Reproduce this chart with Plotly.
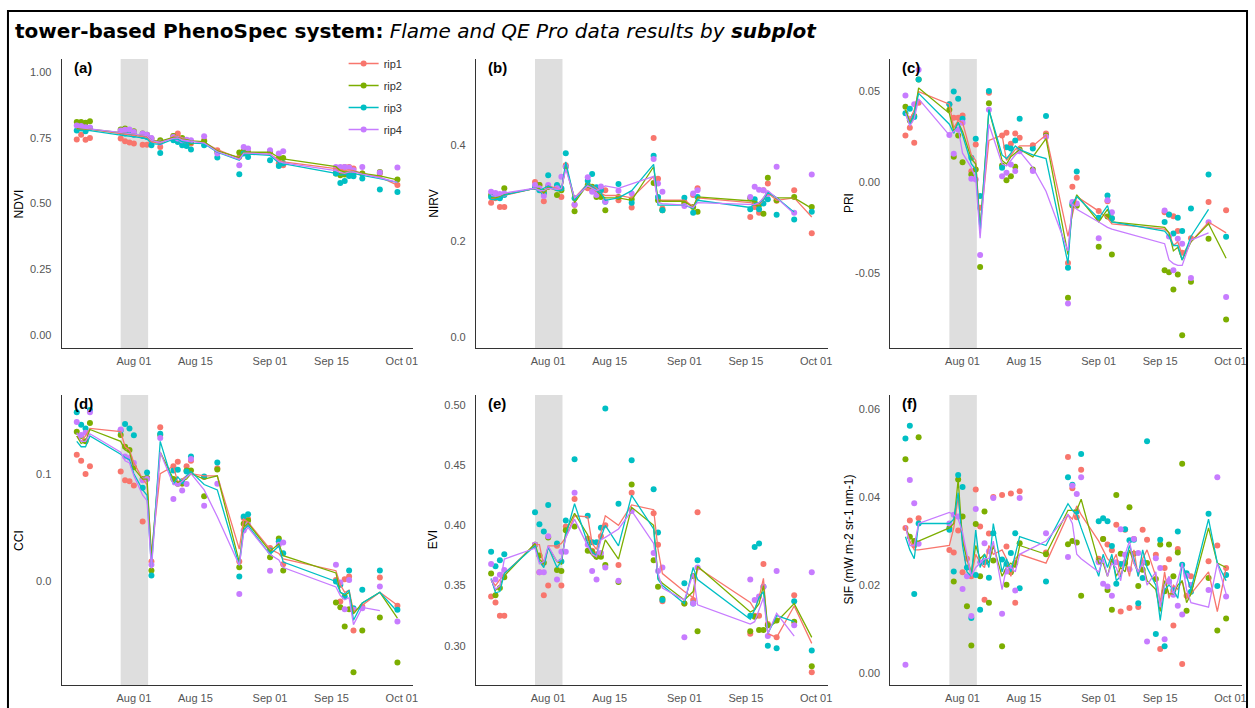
import plotly.graph_objects as go

W, H = 1255, 708
COLORS = ["#F8766D", "#7CAE00", "#00BFC4", "#C77CFF"]
RIPS = ["rip1", "rip2", "rip3", "rip4"]

DATES = ["2022-07-19","2022-07-20","2022-07-21","2022-07-22","2022-07-29","2022-07-30","2022-07-31",
         "2022-08-01","2022-08-03","2022-08-04","2022-08-05","2022-08-07","2022-08-10","2022-08-11",
         "2022-08-12","2022-08-13","2022-08-14","2022-08-17","2022-08-20","2022-08-25","2022-08-26",
         "2022-08-27","2022-09-01","2022-09-03","2022-09-04","2022-09-16","2022-09-17","2022-09-18",
         "2022-09-19","2022-09-20","2022-09-22","2022-09-26","2022-09-30"]

# ---------------- NDVI ----------------
ndvi_pts_rip1 = [0.744,0.762,0.743,0.749,0.747,0.737,0.732,0.728,0.724,0.724,0.741,0.715,0.757,0.766,0.741,0.734,0.728,0.741,0.703,0.677,0.696,0.694,0.696,0.652,0.646,0.627,0.633,0.639,0.639,0.633,0.614,0.614,0.570]
ndvi_pts_rip2 = [0.810,0.810,0.807,0.813,0.782,0.785,0.778,0.775,0.766,0.762,0.747,0.741,0.757,0.749,0.749,0.741,0.734,0.737,0.696,0.694,0.699,0.694,0.699,0.671,0.673,0.614,0.608,0.610,0.608,0.614,0.614,0.620,0.591]
ndvi_pts_rip3 = [0.778,0.785,0.775,0.787,0.772,0.766,0.770,0.762,0.757,0.753,0.722,0.692,0.741,0.734,0.722,0.719,0.706,0.722,0.675,0.611,0.690,0.677,0.665,0.643,0.652,0.614,0.578,0.586,0.605,0.604,0.595,0.553,0.544]
ndvi_pts_rip4 = [0.797,0.795,0.790,0.789,0.778,0.781,0.782,0.772,0.766,0.762,0.749,0.732,0.753,0.747,0.741,0.743,0.741,0.756,0.690,0.646,0.715,0.709,0.703,0.690,0.699,0.639,0.639,0.639,0.637,0.627,0.639,0.618,0.637]
ndvi_line_rip1 = [0.785,0.783,0.782,0.782,0.765,0.763,0.760,0.758,0.755,0.752,0.735,0.728,0.755,0.762,0.748,0.742,0.737,0.732,0.705,0.672,0.690,0.690,0.688,0.665,0.658,0.633,0.628,0.625,0.628,0.625,0.615,0.600,0.570]
ndvi_line_rip2 = [0.785,0.784,0.783,0.783,0.770,0.768,0.765,0.762,0.760,0.757,0.740,0.737,0.752,0.752,0.745,0.743,0.738,0.735,0.700,0.675,0.695,0.695,0.695,0.675,0.670,0.640,0.625,0.620,0.620,0.622,0.615,0.605,0.590]
ndvi_line_rip3 = [0.778,0.778,0.777,0.777,0.760,0.758,0.755,0.752,0.750,0.745,0.728,0.725,0.745,0.745,0.735,0.733,0.730,0.728,0.695,0.665,0.690,0.688,0.683,0.655,0.652,0.615,0.608,0.610,0.615,0.615,0.607,0.595,0.580]
ndvi_line_rip4 = [0.790,0.788,0.787,0.786,0.770,0.768,0.766,0.764,0.762,0.758,0.740,0.733,0.748,0.750,0.742,0.740,0.738,0.730,0.697,0.668,0.692,0.692,0.688,0.660,0.655,0.625,0.618,0.615,0.620,0.620,0.612,0.598,0.580]

# ---------------- NIRV ----------------
nirv_pts_rip1 = [0.280,0.289,0.271,0.271,0.323,0.317,0.283,0.313,0.313,0.292,0.358,0.275,0.310,0.306,0.303,0.308,0.306,0.285,0.270,0.415,0.330,0.268,0.282,0.296,0.310,0.250,0.271,0.259,0.306,0.320,0.284,0.306,0.216]
nirv_pts_rip2 = [0.296,0.294,0.292,0.310,0.313,0.317,0.303,0.313,0.296,0.306,0.355,0.262,0.317,0.313,0.292,0.292,0.264,0.292,0.287,0.321,0.285,0.264,0.278,0.271,0.261,0.289,0.280,0.275,0.257,0.332,0.285,0.292,0.271]
nirv_pts_rip3 = [0.292,0.292,0.289,0.296,0.313,0.306,0.299,0.337,0.317,0.310,0.383,0.289,0.326,0.340,0.312,0.306,0.282,0.319,0.280,0.378,0.292,0.264,0.290,0.259,0.292,0.266,0.287,0.266,0.278,0.287,0.255,0.245,0.261]
nirv_pts_rip4 = [0.303,0.300,0.298,0.299,0.317,0.310,0.294,0.317,0.310,0.334,0.355,0.276,0.333,0.303,0.296,0.314,0.282,0.305,0.299,0.371,0.320,0.303,0.273,0.299,0.306,0.292,0.313,0.307,0.306,0.298,0.355,0.259,0.339]
nirv_line_rip1 = [0.288,0.290,0.292,0.295,0.310,0.305,0.300,0.315,0.310,0.305,0.355,0.290,0.320,0.315,0.310,0.300,0.295,0.295,0.290,0.335,0.285,0.285,0.285,0.272,0.290,0.280,0.278,0.276,0.285,0.300,0.285,0.290,0.250]
nirv_line_rip2 = [0.290,0.290,0.293,0.297,0.310,0.310,0.300,0.312,0.305,0.305,0.360,0.280,0.318,0.310,0.305,0.295,0.290,0.290,0.285,0.355,0.285,0.283,0.283,0.270,0.292,0.285,0.283,0.278,0.290,0.302,0.290,0.290,0.268]
nirv_line_rip3 = [0.287,0.286,0.290,0.296,0.310,0.305,0.310,0.315,0.305,0.305,0.365,0.285,0.320,0.315,0.305,0.300,0.285,0.290,0.305,0.360,0.275,0.275,0.275,0.268,0.285,0.270,0.278,0.280,0.285,0.302,0.290,0.260,None]
nirv_line_rip4 = [0.295,0.293,0.295,0.300,0.310,0.305,0.305,0.310,0.308,0.310,0.350,0.290,0.315,0.310,0.305,0.310,0.315,0.310,0.320,0.335,0.280,0.278,0.275,0.270,0.280,0.275,0.276,0.280,0.290,0.305,0.290,0.257,None]

# ---------------- PRI ----------------
pri_pts_rip1 = [0.0258,0.0300,0.0217,0.0438,0.0430,0.0355,0.0355,0.0368,0.0060,0.0208,-0.0142,0.0494,0.0258,0.0273,0.0212,0.0269,0.0245,0.0203,0.0269,-0.0446,-0.0026,0.0024,-0.0160,-0.0105,-0.0200,-0.0166,-0.0180,-0.0188,-0.0270,-0.0390,-0.0310,-0.0110,-0.0155]
pri_pts_rip2 = [0.0416,0.0340,0.0365,0.0567,0.0400,0.0140,0.0258,0.0110,0.0042,0.0070,-0.0468,0.0435,0.0092,0.0011,0.0033,0.0085,0.0180,0.0070,0.0258,-0.0639,-0.0129,-0.0130,-0.0357,-0.0190,-0.0400,-0.0486,-0.0497,-0.0593,-0.0510,-0.0845,-0.0550,-0.0313,-0.0759]
pri_pts_rip3 = [0.0380,0.0405,0.0360,0.0567,0.0430,0.0500,0.0460,0.0350,0.0134,0.0240,-0.0077,0.0503,0.0079,0.0193,0.0186,0.0230,0.0350,0.0186,0.0365,-0.0473,-0.0120,0.0059,-0.0197,-0.0074,-0.0200,-0.0220,-0.0179,-0.0284,-0.0197,-0.0270,-0.0145,0.0042,-0.0302]
pri_pts_rip4 = [0.0479,0.0350,0.0430,0.0620,0.0260,0.0157,0.0290,0.0328,0.0018,0.0015,-0.0403,0.0400,0.0033,0.0052,0.0098,0.0061,0.0171,0.0061,0.0250,-0.0670,-0.0110,-0.0118,-0.0310,-0.0100,-0.0166,-0.0157,-0.0300,-0.0486,-0.0313,-0.0340,-0.0529,-0.0221,-0.0634]
pri_line_rip1 = [0.040,0.034,0.040,0.050,0.043,0.030,0.034,0.033,0.015,0.012,-0.025,0.023,0.026,0.012,0.015,0.018,0.020,0.020,0.026,-0.030,-0.018,-0.008,-0.016,-0.020,-0.023,-0.026,-0.028,-0.035,-0.033,-0.040,-0.033,-0.022,-0.028]
pri_line_rip2 = [0.040,0.033,0.037,0.052,0.038,0.028,0.033,0.028,0.013,0.010,-0.026,0.040,0.012,0.010,0.014,0.016,0.018,0.014,0.024,-0.040,-0.015,-0.007,-0.022,-0.015,-0.022,-0.025,-0.028,-0.038,-0.036,-0.043,-0.033,-0.023,-0.042]
pri_line_rip3 = [0.038,0.032,0.038,0.049,0.032,0.027,0.033,0.026,0.010,0.007,-0.028,0.040,0.015,0.013,0.016,0.020,0.018,0.015,0.013,-0.045,-0.012,-0.008,-0.020,-0.013,-0.022,-0.027,-0.030,-0.035,-0.035,-0.043,-0.030,-0.015,None]
pri_line_rip4 = [0.038,0.031,0.035,0.046,0.026,0.028,0.030,0.016,0.008,0.002,-0.031,0.032,0.010,0.009,0.012,0.015,0.017,0.008,-0.005,-0.038,-0.012,-0.015,-0.022,-0.025,-0.026,-0.034,-0.043,-0.045,-0.046,-0.046,-0.032,-0.028,None]

# ---------------- CCI ----------------
cci_pts_rip1 = [0.1176,0.1120,0.0997,0.1070,0.1020,0.0940,0.0930,0.0890,0.0557,0.0960,0.0186,0.1430,0.1070,0.1110,0.0910,0.1070,0.1120,0.0970,0.1050,0.0186,0.0588,0.0580,0.0310,0.0370,0.0160,0.0015,-0.0186,0.0022,0.0046,-0.0455,-0.0232,0.0037,-0.0226]
cci_pts_rip2 = [0.1390,0.1350,0.1300,0.1470,0.1360,0.1250,0.1220,0.1060,0.0950,0.0960,0.0102,0.1360,0.0950,0.0907,0.0910,0.1030,0.1030,0.0790,0.1040,0.0133,0.0536,0.0567,0.0226,0.0400,0.0102,-0.0195,-0.0238,-0.0418,-0.0257,-0.0842,-0.0455,-0.0334,-0.0752]
cci_pts_rip3 = [0.1570,0.1455,0.1420,0.1590,0.1400,0.1460,0.1420,0.1356,0.0870,0.1010,0.0056,0.1370,0.1030,0.1037,0.0930,0.1020,0.1160,0.0975,0.1105,0.0046,0.0604,0.0625,0.0288,0.0370,0.0263,0.0000,-0.0030,-0.0140,0.0102,-0.0248,-0.0077,0.0102,-0.0263]
cci_pts_rip4 = [0.1480,0.1360,0.1380,0.1570,0.1410,0.1160,0.1146,0.1100,0.0940,0.0950,0.0155,0.1330,0.0765,0.0907,0.0845,0.0904,0.1136,0.0703,0.0907,-0.0115,0.0474,0.0526,0.0099,0.0340,0.0362,0.0155,-0.0010,-0.0257,0.0015,-0.0263,-0.0248,-0.0046,-0.0372]
cci_line_rip1 = [0.135,0.130,0.135,0.142,0.139,0.125,0.122,0.110,0.095,0.090,0.025,0.100,0.107,0.092,0.095,0.098,0.100,0.098,0.098,0.030,0.058,0.055,0.030,0.026,0.021,0.010,-0.003,-0.010,-0.008,-0.028,-0.022,-0.010,-0.022]
cci_line_rip2 = [0.135,0.128,0.130,0.141,0.130,0.122,0.120,0.105,0.095,0.095,0.022,0.120,0.095,0.092,0.093,0.095,0.100,0.095,0.098,0.018,0.050,0.054,0.028,0.035,0.024,0.008,-0.010,-0.013,-0.010,-0.030,-0.020,-0.010,-0.034]
cci_line_rip3 = [0.130,0.125,0.125,0.135,0.118,0.115,0.113,0.100,0.085,0.080,0.013,0.130,0.090,0.097,0.092,0.098,0.102,0.090,0.085,0.015,0.048,0.052,0.025,0.033,0.018,0.000,-0.010,-0.012,-0.008,-0.036,-0.020,-0.010,-0.028]
cci_line_rip4 = [0.138,0.130,0.130,0.137,0.120,0.112,0.110,0.098,0.080,0.075,0.012,0.120,0.090,0.090,0.093,0.097,0.100,0.085,0.060,0.015,0.045,0.050,0.025,0.020,0.013,-0.005,-0.013,-0.017,-0.015,-0.040,-0.024,-0.027,None]

# ---------------- EVI ----------------
evi_pts_rip1 = [0.341,0.336,0.325,0.325,0.384,0.361,0.342,0.350,0.383,0.350,0.399,0.422,0.389,0.379,0.376,0.391,0.400,0.367,0.427,0.410,0.384,0.337,0.335,0.338,0.411,0.310,0.325,0.325,0.368,0.318,0.307,0.342,0.278]
evi_pts_rip2 = [0.360,0.342,0.348,0.357,0.384,0.375,0.369,0.390,0.363,0.362,0.396,0.399,0.379,0.378,0.374,0.374,0.367,0.353,0.434,0.371,0.349,0.339,0.335,0.358,0.312,0.312,0.324,0.313,0.313,0.317,0.321,0.320,0.283]
evi_pts_rip3 = [0.378,0.366,0.371,0.376,0.411,0.401,0.395,0.417,0.385,0.370,0.404,0.455,0.408,0.386,0.386,0.398,0.497,0.418,0.454,0.430,0.394,0.338,0.352,0.335,0.371,0.325,0.382,0.385,0.349,0.300,0.298,0.337,0.296]
evi_pts_rip4 = [0.368,0.355,0.359,0.363,0.384,0.361,0.361,0.391,0.355,0.378,0.378,0.427,0.384,0.362,0.355,0.377,0.365,0.354,0.412,0.377,0.362,0.365,0.307,0.335,0.365,0.355,0.338,0.341,0.349,0.308,0.362,0.317,0.361]
evi_line_rip1 = [0.355,0.350,0.355,0.360,0.384,0.384,0.366,0.383,0.383,0.385,0.390,0.408,0.407,0.385,0.380,0.393,0.408,0.400,0.417,0.413,0.380,0.360,0.345,0.340,0.365,0.336,0.330,0.340,0.356,0.310,0.307,0.333,0.302]
evi_line_rip2 = [0.355,0.346,0.350,0.358,0.385,0.372,0.368,0.382,0.370,0.368,0.395,0.410,0.392,0.375,0.372,0.375,0.388,0.372,0.415,0.400,0.356,0.352,0.338,0.345,0.366,0.328,0.330,0.335,0.350,0.315,0.320,0.335,0.307]
evi_line_rip3 = [0.356,0.344,0.345,0.360,0.383,0.370,0.365,0.382,0.365,0.370,0.392,0.418,0.385,0.378,0.375,0.390,0.400,0.383,0.425,0.397,0.355,0.350,0.335,0.365,0.355,0.322,0.330,0.340,0.345,0.310,0.325,0.320,None]
evi_line_rip4 = [0.355,0.347,0.350,0.372,0.381,0.368,0.370,0.383,0.370,0.372,0.390,0.405,0.383,0.376,0.374,0.388,0.390,0.397,0.412,0.385,0.360,0.348,0.338,0.360,0.334,0.318,0.320,0.330,0.340,0.310,0.327,0.308,None]

# ---------------- SIF (denser sampling) ----------------
SIF_DATES = ["2022-07-19","2022-07-20","2022-07-21","2022-07-22","2022-07-29","2022-07-30","2022-07-31",
             "2022-08-01","2022-08-02","2022-08-03","2022-08-04","2022-08-05","2022-08-06","2022-08-07",
             "2022-08-08","2022-08-10","2022-08-11","2022-08-12","2022-08-13","2022-08-14","2022-08-20",
             "2022-08-25","2022-08-26","2022-08-27","2022-08-28","2022-09-01","2022-09-02","2022-09-03",
             "2022-09-04","2022-09-05","2022-09-06","2022-09-07","2022-09-08","2022-09-09","2022-09-10",
             "2022-09-11","2022-09-12","2022-09-14","2022-09-15","2022-09-16","2022-09-17","2022-09-18",
             "2022-09-19","2022-09-20","2022-09-21","2022-09-22","2022-09-26","2022-09-28","2022-09-30"]
sif_pts_rip1 = [0.0330,0.0347,0.0290,0.0352,0.0280,0.0274,0.0324,0.0229,0.0260,0.0220,0.0417,0.0333,0.0167,0.0317,0.0400,0.0405,0.0288,0.0408,0.0160,0.0413,0.0274,0.0491,0.0420,0.0354,0.0462,0.0260,0.0305,0.0292,0.0279,0.0337,0.0140,0.0326,0.0148,0.0305,0.0150,0.0326,0.0303,0.0269,0.0055,0.0239,0.0259,0.0108,0.0282,0.0021,0.0176,0.0220,0.0254,0.0290,0.0239]
sif_pts_rip2 = [0.0486,0.0310,0.0300,0.0536,0.0330,0.0208,0.0440,0.0356,0.0152,0.0063,0.0339,0.0220,0.0367,0.0160,0.0256,0.0061,0.0201,0.0229,0.0250,0.0295,0.0270,0.0293,0.0300,0.0297,0.0176,0.0254,0.0305,0.0189,0.0144,0.0405,0.0271,0.0250,0.0377,0.0271,0.0198,0.0235,0.0250,0.0214,0.0292,0.0186,0.0292,0.0220,0.0274,0.0476,0.0142,0.0200,0.0216,0.0097,0.0124]
sif_pts_rip3 = [0.0533,0.0562,0.0180,0.0340,0.0326,0.0231,0.0450,0.0423,0.0240,0.0125,0.0223,0.0144,0.0252,0.0217,0.0318,0.0258,0.0248,0.0273,0.0318,0.0193,0.0208,0.0445,0.0428,0.0367,0.0498,0.0345,0.0352,0.0345,0.0289,0.0203,0.0248,0.0327,0.0302,0.0303,0.0159,0.0216,0.0527,0.0089,0.0303,0.0061,0.0208,0.0189,0.0322,0.0246,0.0227,0.0185,0.0362,0.0198,0.0223]
sif_pts_rip4 = [0.0019,0.0439,0.0386,0.0294,0.0340,0.0360,0.0356,0.0191,0.0220,0.0130,0.0373,0.0252,0.0295,0.0277,0.0398,0.0135,0.0231,0.0239,0.0188,0.0398,0.0318,0.0264,0.0426,0.0407,0.0445,0.0252,0.0203,0.0197,0.0176,0.0252,0.0327,0.0269,0.0236,0.0305,0.0273,0.0252,0.0072,0.0261,0.0239,0.0077,0.0208,0.0178,0.0153,0.0133,0.0221,0.0200,0.0189,0.0445,0.0174]
sif_line_rip1 = [0.033,0.030,0.028,0.028,0.029,0.033,0.040,0.031,0.026,0.022,0.027,0.025,0.024,0.029,0.027,0.028,0.026,0.022,0.026,0.027,0.025,0.036,0.035,0.038,0.036,0.030,0.028,0.026,0.025,0.027,0.022,0.026,0.022,0.028,0.022,0.026,0.028,0.022,0.016,0.023,0.017,0.020,0.019,0.021,0.017,0.018,0.023,0.014,0.024]
sif_line_rip2 = [0.033,0.031,0.030,0.030,0.033,0.034,0.044,0.030,0.026,0.023,0.029,0.026,0.027,0.025,0.029,0.022,0.024,0.025,0.024,0.029,0.027,0.037,0.037,0.037,0.0395,0.025,0.025,0.022,0.026,0.022,0.024,0.023,0.028,0.025,0.023,0.025,0.021,0.019,0.014,0.021,0.018,0.018,0.020,0.021,0.016,0.018,0.033,0.025,0.024]
sif_line_rip3 = [0.031,0.028,0.026,0.034,0.034,0.035,0.041,0.029,0.023,0.022,0.0325,0.024,0.027,0.024,0.034,0.023,0.026,0.023,0.027,0.031,0.029,0.0385,0.037,0.036,0.033,0.022,0.027,0.024,0.027,0.021,0.022,0.025,0.029,0.026,0.022,0.028,0.024,0.020,0.012,0.019,0.020,0.019,0.017,0.025,0.022,0.019,0.035,0.025,0.021]
sif_line_rip4 = [0.0335,0.029,0.029,0.034,0.0365,0.036,0.035,0.032,0.027,0.022,0.024,0.025,0.026,0.026,0.030,0.019,0.024,0.024,0.023,0.027,0.030,0.036,0.034,0.027,0.026,0.023,0.026,0.022,0.025,0.024,0.021,0.027,0.030,0.025,0.023,0.025,0.020,0.023,0.015,0.020,0.022,0.018,0.021,0.025,0.019,0.016,0.015,0.025,0.018]

PANELS = [
    dict(lab="(a)", ytitle="NDVI", dates=DATES,
         pts=[ndvi_pts_rip1, ndvi_pts_rip2, ndvi_pts_rip3, ndvi_pts_rip4],
         lines=[ndvi_line_rip1, ndvi_line_rip2, ndvi_line_rip3, ndvi_line_rip4],
         rng=[-0.05, 1.05], tv=[0, 0.25, 0.5, 0.75, 1.0], tt=["0.00", "0.25", "0.50", "0.75", "1.00"]),
    dict(lab="(b)", ytitle="NIRV", dates=DATES,
         pts=[nirv_pts_rip1, nirv_pts_rip2, nirv_pts_rip3, nirv_pts_rip4],
         lines=[nirv_line_rip1, nirv_line_rip2, nirv_line_rip3, nirv_line_rip4],
         rng=[-0.0235, 0.58], tv=[0, 0.2, 0.4], tt=["0.0", "0.2", "0.4"]),
    dict(lab="(c)", ytitle="PRI", dates=DATES,
         pts=[pri_pts_rip1, pri_pts_rip2, pri_pts_rip3, pri_pts_rip4],
         lines=[pri_line_rip1, pri_line_rip2, pri_line_rip3, pri_line_rip4],
         rng=[-0.0916, 0.068], tv=[-0.05, 0, 0.05], tt=["-0.05", "0.00", "0.05"]),
    dict(lab="(d)", ytitle="CCI", dates=DATES,
         pts=[cci_pts_rip1, cci_pts_rip2, cci_pts_rip3, cci_pts_rip4],
         lines=[cci_line_rip1, cci_line_rip2, cci_line_rip3, cci_line_rip4],
         rng=[-0.096, 0.173], tv=[0, 0.1], tt=["0.0", "0.1"]),
    dict(lab="(e)", ytitle="EVI", dates=DATES,
         pts=[evi_pts_rip1, evi_pts_rip2, evi_pts_rip3, evi_pts_rip4],
         lines=[evi_line_rip1, evi_line_rip2, evi_line_rip3, evi_line_rip4],
         rng=[0.2674, 0.5083], tv=[0.30, 0.35, 0.40, 0.45, 0.50], tt=["0.30", "0.35", "0.40", "0.45", "0.50"]),
    dict(lab="(f)", ytitle="SIF (mW m-2 sr-1 nm-1)", dates=SIF_DATES,
         pts=[sif_pts_rip1, sif_pts_rip2, sif_pts_rip3, sif_pts_rip4],
         lines=[sif_line_rip1, sif_line_rip2, sif_line_rip3, sif_line_rip4],
         rng=[-0.0027, 0.0632], tv=[0, 0.02, 0.04, 0.06], tt=["0.00", "0.02", "0.04", "0.06"]),
]

XTICKS = ["2022-08-01", "2022-08-15", "2022-09-01", "2022-09-15", "2022-10-01"]
XTICKTEXT = ["Aug 01", "Aug 15", "Sep 01", "Sep 15", "Oct 01"]
XRANGE = ["2022-07-15 14:00", "2022-10-03 15:00"]
BAND = ["2022-07-29", "2022-08-04 06:00"]

# pixel geometry of the panels
COL_X = [(62, 415), (478, 831), (894, 1247)]
ROW_Y = [(59, 348), (395, 685)]
YTITLE_X = [19, 435, 852]

fig = go.Figure()
layout = {}
annotations = []
shapes = []
FONT = "Liberation Sans, Arial, sans-serif"

for i, p in enumerate(PANELS):
    r, c = divmod(i, 3)
    n = "" if i == 0 else str(i + 1)
    xa, ya = "x" + n, "y" + n
    x0, x1 = COL_X[c]
    y0, y1 = ROW_Y[r]
    layout["xaxis" + n] = dict(domain=[x0 / W, x1 / W], anchor=ya, type="date", range=XRANGE,
                               tickvals=XTICKS, ticktext=XTICKTEXT, showgrid=False, zeroline=False,
                               showline=True, linecolor="#333333", linewidth=1.3, ticks="",
                               ticklabelstandoff=3,
                               tickfont=dict(family=FONT, size=11, color="#555555"))
    layout["yaxis" + n] = dict(domain=[1 - y1 / H, 1 - y0 / H], anchor=xa, range=p["rng"],
                               tickvals=p["tv"], ticktext=p["tt"], showgrid=False, zeroline=False,
                               showline=True, linecolor="#333333", linewidth=1.3, ticks="",
                               ticklabelstandoff=7,
                               tickfont=dict(family=FONT, size=11, color="#555555"))
    shapes.append(dict(type="rect", xref=xa, yref=ya + " domain", x0=BAND[0], x1=BAND[1], y0=0, y1=1,
                       fillcolor="#dedede", line=dict(width=0), layer="below"))
    for k in range(4):
        fig.add_trace(go.Scatter(x=p["dates"], y=p["pts"][k], mode="markers", xaxis=xa, yaxis=ya,
                                 marker=dict(color=COLORS[k], size=6), showlegend=False,
                                 hoverinfo="skip"))
    for k in range(4):
        fig.add_trace(go.Scatter(x=p["dates"], y=p["lines"][k], mode="lines", xaxis=xa, yaxis=ya,
                                 line=dict(color=COLORS[k], width=1.3), showlegend=False,
                                 connectgaps=False, hoverinfo="skip"))
    annotations.append(dict(text="<b>" + p["lab"] + "</b>", xref=xa + " domain", yref=ya + " domain",
                            x=0.028, y=0.972, xanchor="left", yanchor="middle", showarrow=False,
                            font=dict(family=FONT, size=15, color="black")))
    annotations.append(dict(text=p["ytitle"], xref="paper", yref=ya + " domain", x=YTITLE_X[c] / W,
                            y=0.5, xanchor="center", yanchor="middle", textangle=-90, showarrow=False,
                            font=dict(family=FONT, size=12, color="black")))

# legend entries (legend-only traces)
for k in range(4):
    fig.add_trace(go.Scatter(x=[None], y=[None], mode="lines+markers", name=RIPS[k],
                             line=dict(color=COLORS[k], width=1.3), marker=dict(color=COLORS[k], size=6),
                             legendgroup=RIPS[k]))

annotations.append(dict(
    text="<b>tower-based PhenoSpec system:</b> <i>Flame and QE Pro data results by </i><b><i>subplot</i></b>",
    xref="paper", yref="paper", x=13 / W, y=1 - 31 / H, xanchor="left", yanchor="middle",
    showarrow=False, font=dict(family="DejaVu Sans, sans-serif", size=20, color="black")))

shapes.append(dict(type="rect", xref="paper", yref="paper", x0=8 / W, x1=1252 / W, y0=-0.02, y1=1 - 11 / H,
                   line=dict(color="black", width=2), fillcolor="rgba(0,0,0,0)", layer="above"))

fig.update_layout(
    width=W, height=H, margin=dict(l=0, r=0, t=0, b=0),
    paper_bgcolor="white", plot_bgcolor="white",
    annotations=annotations, shapes=shapes,
    legend=dict(x=345 / W, y=1 - 49 / H, xanchor="left", yanchor="top", bgcolor="rgba(0,0,0,0)",
                font=dict(family=FONT, size=11, color="#333333"), tracegroupgap=3,
                traceorder="grouped"),
    **layout,
)

fig.write_html("out.html", config={"displayModeBar": False},
               post_script="document.body.style.margin='0';document.body.style.overflow='hidden';")
